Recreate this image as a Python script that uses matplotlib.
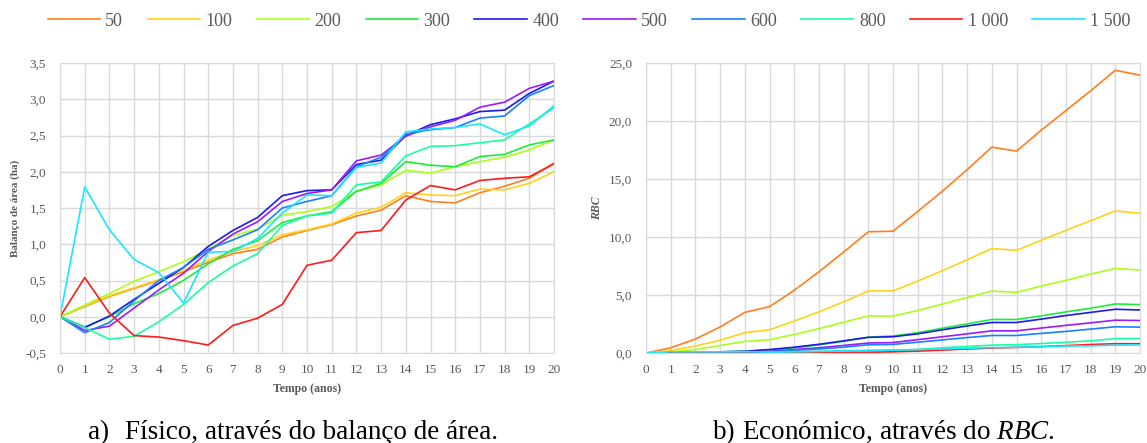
import numpy as np
import matplotlib
matplotlib.use("Agg")
import matplotlib.pyplot as plt
from matplotlib.ticker import FuncFormatter, MultipleLocator

plt.rcParams['font.family'] = ['Liberation Serif', 'DejaVu Serif']
plt.rcParams['mathtext.fontset'] = 'custom'
plt.rcParams['mathtext.rm'] = 'Liberation Serif'
plt.rcParams['mathtext.it'] = 'Liberation Serif:italic'

anos = list(range(21))
series = ['50', '100', '200', '300', '400', '500', '600', '800', '1 000', '1 500']
cores = ['#FF7F1F', '#FFD21A', '#AAFF1A', '#1AEE3A', '#1A1AEE',
         '#9B1AFF', '#1A80FF', '#1AFFA0', '#FF1A1A', '#1AE6FF']

# a) balanço de área (ha)
area_50 = [0, 0.14, 0.28, 0.39, 0.50, 0.62, 0.75, 0.87, 0.93, 1.10, 1.19, 1.27, 1.39, 1.47, 1.67, 1.59, 1.57, 1.71, 1.80, 1.91, 2.12]
area_100 = [0, 0.15, 0.29, 0.40, 0.51, 0.64, 0.78, 0.90, 0.98, 1.13, 1.20, 1.28, 1.43, 1.51, 1.71, 1.68, 1.67, 1.76, 1.75, 1.84, 2.00]
area_200 = [0, 0.16, 0.32, 0.49, 0.62, 0.76, 0.93, 1.12, 1.21, 1.40, 1.45, 1.52, 1.73, 1.82, 2.02, 1.98, 2.07, 2.14, 2.20, 2.30, 2.44]
area_300 = [0, -0.14, 0.00, 0.18, 0.32, 0.50, 0.73, 0.93, 1.05, 1.30, 1.39, 1.45, 1.73, 1.84, 2.14, 2.09, 2.07, 2.21, 2.24, 2.37, 2.44]
area_400 = [0, -0.15, 0.01, 0.24, 0.46, 0.68, 0.97, 1.19, 1.37, 1.67, 1.74, 1.75, 2.10, 2.16, 2.50, 2.65, 2.73, 2.83, 2.85, 3.08, 3.25]
area_500 = [0, -0.19, -0.13, 0.12, 0.37, 0.60, 0.90, 1.14, 1.31, 1.59, 1.70, 1.75, 2.15, 2.23, 2.49, 2.62, 2.71, 2.89, 2.96, 3.15, 3.25]
area_600 = [0, -0.22, -0.08, 0.22, 0.50, 0.68, 0.93, 1.06, 1.20, 1.50, 1.59, 1.67, 2.07, 2.20, 2.52, 2.58, 2.61, 2.74, 2.77, 3.05, 3.19]
area_800 = [0, -0.15, -0.31, -0.27, -0.07, 0.17, 0.47, 0.70, 0.87, 1.26, 1.39, 1.43, 1.82, 1.86, 2.22, 2.35, 2.36, 2.40, 2.44, 2.66, 2.88]
area_1000 = [0, 0.54, 0.05, -0.26, -0.28, -0.33, -0.39, -0.12, -0.02, 0.17, 0.71, 0.78, 1.16, 1.19, 1.61, 1.81, 1.75, 1.88, 1.91, 1.93, 2.11]
area_1500 = [0, 1.79, 1.20, 0.79, 0.61, 0.19, 0.89, 0.90, 1.08, 1.43, 1.68, 1.67, 2.06, 2.12, 2.55, 2.59, 2.61, 2.66, 2.51, 2.63, 2.91]

# b) RBC
rbc_50 = [0, 0.45, 1.2, 2.25, 3.5, 4.0, 5.4, 7.0, 8.7, 10.45, 10.5, 12.2, 13.95, 15.8, 17.75, 17.4, 19.2, 20.9, 22.6, 24.37, 23.95]
rbc_100 = [0, 0.2, 0.6, 1.1, 1.75, 2.0, 2.75, 3.55, 4.4, 5.35, 5.35, 6.2, 7.1, 8.03, 9.0, 8.85, 9.72, 10.57, 11.4, 12.25, 12.05]
rbc_200 = [0, 0.1, 0.3, 0.65, 1.0, 1.15, 1.6, 2.1, 2.65, 3.2, 3.18, 3.66, 4.22, 4.77, 5.34, 5.23, 5.77, 6.26, 6.8, 7.29, 7.15]
rbc_300 = [0, 0.02, 0.05, 0.1, 0.15, 0.25, 0.45, 0.7, 1.0, 1.37, 1.47, 1.75, 2.14, 2.51, 2.89, 2.89, 3.2, 3.54, 3.86, 4.23, 4.17]
rbc_400 = [0, 0.0, 0.05, 0.1, 0.15, 0.3, 0.5, 0.75, 1.05, 1.35, 1.4, 1.65, 2.0, 2.33, 2.63, 2.63, 2.92, 3.23, 3.5, 3.77, 3.71]
rbc_500 = [0, -0.05, -0.05, 0.0, 0.05, 0.15, 0.3, 0.45, 0.65, 0.86, 0.9, 1.15, 1.4, 1.65, 1.91, 1.91, 2.15, 2.38, 2.6, 2.83, 2.8]
rbc_600 = [0, -0.05, -0.05, 0.0, 0.05, 0.12, 0.22, 0.35, 0.5, 0.71, 0.74, 0.93, 1.13, 1.33, 1.51, 1.51, 1.69, 1.86, 2.06, 2.26, 2.23]
rbc_800 = [0, -0.05, -0.1, -0.1, -0.08, -0.03, 0.02, 0.08, 0.13, 0.2, 0.25, 0.3, 0.45, 0.56, 0.68, 0.72, 0.82, 0.92, 1.05, 1.24, 1.24]
rbc_1000 = [0, 0.02, 0.01, -0.02, -0.02, -0.03, -0.03, 0.0, 0.02, 0.06, 0.1, 0.16, 0.25, 0.34, 0.43, 0.48, 0.55, 0.64, 0.73, 0.8, 0.8]
rbc_1500 = [0, 0.1, 0.1, 0.1, 0.12, 0.08, 0.12, 0.15, 0.2, 0.23, 0.25, 0.3, 0.35, 0.4, 0.47, 0.5, 0.55, 0.6, 0.62, 0.68, 0.7]

dados_area = [area_50, area_100, area_200, area_300, area_400, area_500, area_600, area_800, area_1000, area_1500]
dados_rbc = [rbc_50, rbc_100, rbc_200, rbc_300, rbc_400, rbc_500, rbc_600, rbc_800, rbc_1000, rbc_1500]

cinza = '#595959'
grelha = '#D9D9D9'
virgula = FuncFormatter(lambda v, p: ('%.1f' % v).replace('.', ','))

fig = plt.figure(figsize=(11.47, 4.43), dpi=100)
ax1 = fig.add_axes([60 / 1147, 1 - 353 / 443, 494 / 1147, 290 / 443])
ax2 = fig.add_axes([646 / 1147, 1 - 353 / 443, 494 / 1147, 290 / 443])

for ax, dados in [(ax1, dados_area), (ax2, dados_rbc)]:
    for nome, cor, y in zip(series, cores, dados):
        ax.plot(anos, y, color=cor, lw=1.2, label=nome)
    ax.set_xlim(0, 20)
    ax.xaxis.set_major_locator(MultipleLocator(1))
    ax.yaxis.set_major_formatter(virgula)
    ax.grid(True, color=grelha, lw=1.0)
    ax.set_axisbelow(True)
    for s in ax.spines.values():
        s.set_color(grelha)
    ax.tick_params(length=0, labelsize=9.5, labelcolor=cinza)
    ax.tick_params(axis='y', pad=10)
    ax.tick_params(axis='x', pad=8)
    ax.set_xlabel('Tempo (anos)', fontsize=8.5, fontweight='bold', color=cinza, labelpad=5)

ax1.set_ylim(-0.5, 3.5)
ax1.yaxis.set_major_locator(MultipleLocator(0.5))
ax1.set_ylabel('Balanço de área (ha)', fontsize=8, fontweight='bold', color=cinza, labelpad=4)

ax2.set_ylim(0, 25)
ax2.yaxis.set_major_locator(MultipleLocator(5))
ax2.set_ylabel('RBC', fontsize=8.5, fontweight='bold', fontstyle='italic', color=cinza, labelpad=4)

h, l = ax1.get_legend_handles_labels()
fig.legend(h, l, loc='center', bbox_to_anchor=(589 / 1147, 1 - 21 / 443), ncol=10, frameon=False,
           fontsize=13, labelcolor=cinza, handlelength=2.9, handletextpad=0.3, columnspacing=1.35)

# legendas das figuras
yb = 1 - 439 / 443
fig.text(88 / 1147, yb, 'a)', fontsize=19.5, va='baseline')
fig.text(125 / 1147, yb, 'Físico, através do balanço de área.', fontsize=19.5, va='baseline')
fig.text(713 / 1147, yb, 'b)', fontsize=19.5, va='baseline')
fig.text(742 / 1147, yb, 'Económico, através do $\\mathit{RBC}$.', fontsize=19.5, va='baseline')

fig.savefig('out.png', dpi=100)
